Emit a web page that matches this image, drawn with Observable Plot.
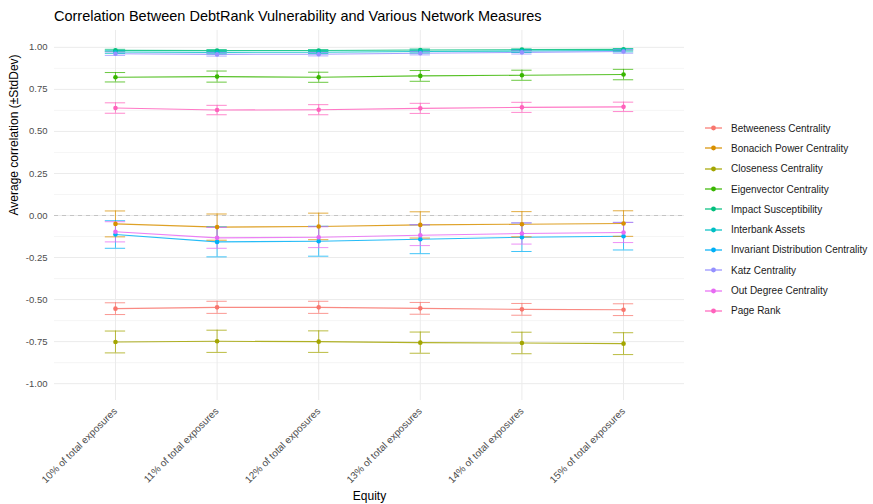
<!DOCTYPE html>
<html><head><meta charset="utf-8">
<script src="https://cdn.jsdelivr.net/npm/d3@7"></script>
<script src="https://cdn.jsdelivr.net/npm/@observablehq/plot@0.6"></script>
<style>
body{margin:0;background:#fff;font-family:"Liberation Sans",Arial,Helvetica,sans-serif;}
#wrap{position:relative;width:873px;height:504px;overflow:hidden;}
#chart{position:absolute;left:0;top:0;}
#title{position:absolute;left:54px;top:8px;font-size:14.5px;color:#000;white-space:nowrap;}
#legend{position:absolute;left:704px;top:118px;font-size:10px;color:#1a1a1a;}
.row{height:20.3px;display:flex;align-items:center;white-space:nowrap;}
.row svg{margin-right:8px;}
</style></head><body>
<div id="wrap"><div id="chart"></div><div id="title">Correlation Between DebtRank Vulnerability and Various Network Measures</div><div id="legend"></div></div>
<script>
const equity = ["10% of total exposures","11% of total exposures","12% of total exposures","13% of total exposures","14% of total exposures","15% of total exposures"];
const measures = ["Betweeness Centrality","Bonacich Power Centrality","Closeness Centrality","Eigenvector Centrality","Impact Susceptibility","Interbank Assets","Invariant Distribution Centrality","Katz Centrality","Out Degree Centrality","Page Rank"];
const colors = ["#F8766D","#D89000","#A3A500","#39B600","#00BF7D","#00BFC4","#00B0F6","#9590FF","#E76BF3","#FF62BC"];

const betweenessMean = [-0.554,-0.546,-0.546,-0.552,-0.558,-0.560];
const betweenessSd   = [0.035,0.036,0.036,0.035,0.035,0.035];
const bonacichMean   = [-0.050,-0.069,-0.065,-0.056,-0.052,-0.048];
const bonacichSd     = [0.077,0.078,0.079,0.078,0.075,0.076];
const closenessMean  = [-0.752,-0.748,-0.750,-0.756,-0.758,-0.762];
const closenessSd    = [0.065,0.066,0.064,0.063,0.064,0.065];
const eigenMean      = [0.822,0.826,0.822,0.830,0.834,0.838];
const eigenSd        = [0.028,0.033,0.030,0.032,0.030,0.031];
const impactMean     = [0.982,0.981,0.981,0.984,0.986,0.988];
const impactSd       = [0.006,0.006,0.006,0.006,0.005,0.005];
const interbankMean  = [0.972,0.970,0.971,0.975,0.978,0.981];
const interbankSd    = [0.008,0.008,0.008,0.008,0.008,0.008];
const invariantMean  = [-0.113,-0.157,-0.153,-0.141,-0.129,-0.123];
const invariantSd    = [0.082,0.089,0.089,0.086,0.085,0.082];
const katzMean       = [0.962,0.958,0.959,0.965,0.970,0.975];
const katzSd         = [0.010,0.010,0.010,0.010,0.010,0.010];
const outDegreeMean  = [-0.097,-0.133,-0.129,-0.117,-0.107,-0.101];
const outDegreeSd    = [0.060,0.062,0.062,0.062,0.063,0.060];
const pageRankMean   = [0.639,0.627,0.629,0.637,0.643,0.646];
const pageRankSd     = [0.031,0.028,0.030,0.030,0.030,0.028];

const yTicks = [-1,-0.75,-0.5,-0.25,0,0.25,0.5,0.75,1];
const yMinor = [-0.875,-0.625,-0.375,-0.125,0.125,0.375,0.625,0.875];
const errorbarWidth = 0.2;

const meanSeries = [betweenessMean,bonacichMean,closenessMean,eigenMean,impactMean,interbankMean,invariantMean,katzMean,outDegreeMean,pageRankMean];
const sdSeries = [betweenessSd,bonacichSd,closenessSd,eigenSd,impactSd,interbankSd,invariantSd,katzSd,outDegreeSd,pageRankSd];
const equityIndex = equity.map((_, i) => i);

const rows = [];
measures.forEach((m, k) => {
  equity.forEach((e, i) => rows.push({measure: m, i, mean: meanSeries[k][i], sd: sdSeries[k][i]}));
});

const plot = Plot.plot({
  width: 873, height: 504,
  marginTop: 30, marginBottom: 104, marginLeft: 54, marginRight: 189,
  style: {fontFamily: "Liberation Sans, Arial, Helvetica, sans-serif", fontSize: "9.5px", background: "white"},
  x: {type: "linear", domain: [-0.6, 5.6]},
  y: {domain: [-1.1, 1.1]},
  color: {domain: measures, range: colors},
  marks: [
    Plot.ruleY(yMinor, {stroke: "#f3f3f3", strokeWidth: 0.8}),
    Plot.ruleY(yTicks, {stroke: "#ebebeb", strokeWidth: 1}),
    Plot.ruleX(equityIndex, {stroke: "#ebebeb", strokeWidth: 1}),
    Plot.ruleY([0], {stroke: "#c4c4c4", strokeDasharray: "4,4", strokeWidth: 1}),
    Plot.axisY({ticks: yTicks, tickFormat: v => v.toFixed(2), tickSize: 0, tickPadding: 7, label: null, fill: "#4d4d4d"}),
    Plot.axisX({ticks: equityIndex, tickFormat: i => equity[i], tickRotate: -45, tickSize: 0, tickPadding: 9, fontSize: 10, label: null, fill: "#4d4d4d"}),
    Plot.text(["Average correlation (±StdDev)"], {frameAnchor: "left", rotate: -90, dx: -40, fontSize: 12, fill: "#000"}),
    Plot.text(["Equity"], {frameAnchor: "bottom", dy: 99, fontSize: 12, fill: "#000"}),
    Plot.line(rows, {x: "i", y: "mean", z: "measure", stroke: "measure", strokeWidth: 1.1, strokeOpacity: 0.85}),
    Plot.ruleX(rows, {x: "i", y1: d => d.mean - d.sd, y2: d => d.mean + d.sd, stroke: "measure", strokeOpacity: 0.75}),
    Plot.ruleY(rows, {y: d => d.mean - d.sd, x1: d => d.i - errorbarWidth / 2, x2: d => d.i + errorbarWidth / 2, stroke: "measure", strokeOpacity: 0.75}),
    Plot.ruleY(rows, {y: d => d.mean + d.sd, x1: d => d.i - errorbarWidth / 2, x2: d => d.i + errorbarWidth / 2, stroke: "measure", strokeOpacity: 0.75}),
    Plot.dot(rows, {x: "i", y: "mean", fill: "measure", r: 2.3})
  ]
});
document.getElementById("chart").appendChild(plot);

const legend = document.getElementById("legend");
measures.forEach((m, k) => {
  const row = document.createElement("div");
  row.className = "row";
  row.innerHTML = `<svg width="19" height="10"><line x1="1" x2="18" y1="5" y2="5" stroke="${colors[k]}" stroke-width="1.2"/><circle cx="9.5" cy="5" r="2.4" fill="${colors[k]}"/></svg><span>${m}</span>`;
  legend.appendChild(row);
});
</script>
</body></html>
